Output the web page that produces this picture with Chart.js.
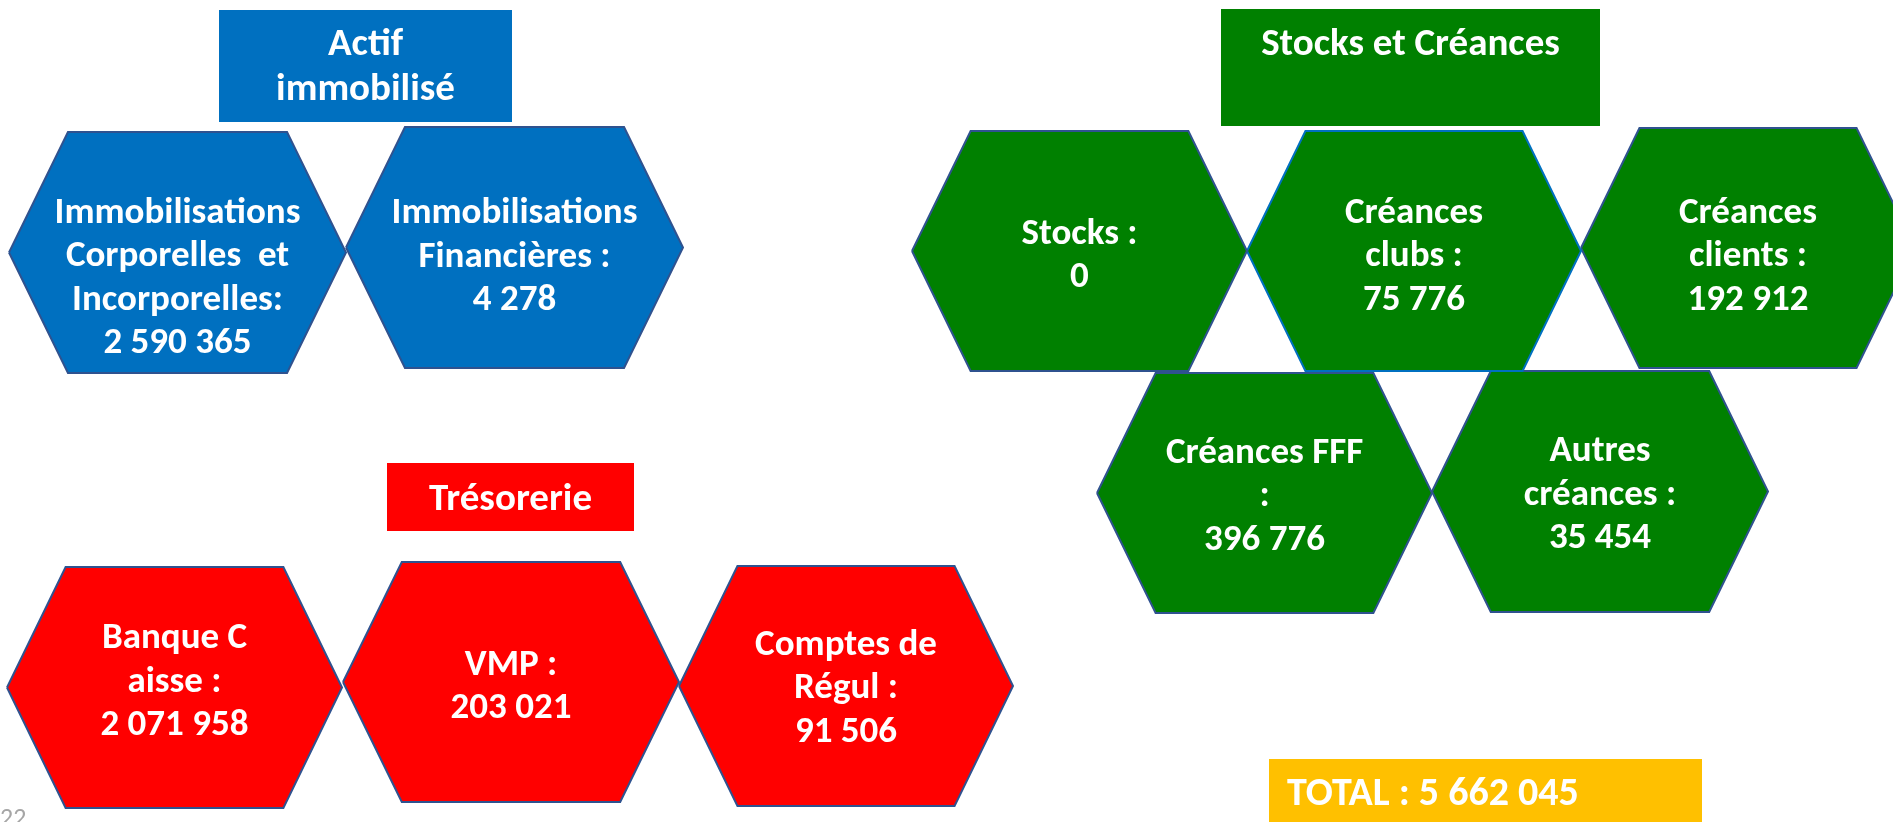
<!DOCTYPE html>
<html lang="fr">
<head>
<meta charset="utf-8">
<title>Actif</title>
<script src="https://cdn.jsdelivr.net/npm/chart.js"></script>
<style>
  html, body { margin: 0; padding: 0; background: #fff; }
  #wrap { width: 1893px; height: 822px; position: relative; }
</style>
</head>
<body>
<div id="wrap"><canvas id="hexchart"></canvas></div>
<script>
// groupes et valeurs
const groupTitles = ['Actif\nimmobilisé', 'Stocks et Créances', 'Trésorerie'];
const actifLabels = ['Immobilisations\nCorporelles  et\nIncorporelles:', 'Immobilisations\nFinancières :'];
const actifValues = [2590365, 4278];
const stockLabels = ['Stocks :', 'Créances\nclubs :', 'Créances\nclients :', 'Créances FFF\n:', 'Autres\ncréances :'];
const stockValues = [0, 75776, 192912, 396776, 35454];
const tresoLabels = ['Banque C\naisse :', 'VMP :', 'Comptes de\nRégul :'];
const tresoValues = [2071958, 203021, 91506];
const totalLabel = 'TOTAL : ';
const totalValue = 5662045;

// mise en page : [gauche, droite, haut, bas] en unités des axes
const actifHex = [[9, 346, 132, 373], [346, 683, 127, 368]];
const stockHex = [[912, 1247, 131, 371], [1247, 1581, 131, 371], [1581, 1915, 128, 368],
                  [1097, 1432, 373, 613], [1432, 1768, 371, 612]];
const tresoHex = [[7, 342, 567, 808], [343, 679, 562, 802], [679, 1013, 566, 806]];
const actifShift = [26, 10];
const stockShift = [5, 6, 9, 4, 4];
const tresoShift = [-5, 5, 3];
const titleBoxes = [[219, 512, 10, 122], [1221, 1600, 9, 126], [387, 634, 463, 531]];
const titleTextY = [68, 45, 500];
const totalBox = [1269, 1702, 759, 830];

const colors = ['#0070C0', '#008000', '#FF0000'];
const FAMILY = 'Carlito, Lato, "Liberation Sans", sans-serif';
const LINE_H = 43.5;

function fmt(v) {
  return String(v).replace(/\B(?=(\d{3})+(?!\d))/g, ' ');
}

function hexPoints(g) {
  const [l, r, t, b] = g;
  const inset = (r - l) * 0.175;
  const my = (t + b) / 2;
  return [
    {x: l, y: my}, {x: l + inset, y: t}, {x: r - inset, y: t},
    {x: r, y: my}, {x: r - inset, y: b}, {x: l + inset, y: b}, {x: l, y: my}
  ];
}

function rectPoints(g) {
  const [l, r, t, b] = g;
  return [{x: l, y: t}, {x: r, y: t}, {x: r, y: b}, {x: l, y: b}, {x: l, y: t}];
}

const groups = [
  {labels: actifLabels, values: actifValues, hex: actifHex, shift: actifShift},
  {labels: stockLabels, values: stockValues, hex: stockHex, shift: stockShift},
  {labels: tresoLabels, values: tresoValues, hex: tresoHex, shift: tresoShift}
];

const datasets = [];
groups.forEach(function(g, gi) {
  g.hex.forEach(function(h, i) {
    datasets.push({
      label: g.labels[i].replace(/\n/g, ' '),
      data: hexPoints(h),
      backgroundColor: colors[gi],
      borderColor: (gi === 1 && i === 1) ? '#0070C0' : '#2F528F',
      borderWidth: 2,
      fill: 'shape'
    });
  });
  datasets.push({
    label: groupTitles[gi],
    data: rectPoints(titleBoxes[gi]),
    backgroundColor: colors[gi],
    borderWidth: 0,
    fill: 'shape'
  });
});
datasets.push({
  label: 'TOTAL',
  data: rectPoints(totalBox),
  backgroundColor: '#FFC000',
  borderWidth: 0,
  fill: 'shape'
});

const textPlugin = {
  id: 'hexText',
  afterDatasetsDraw(chart) {
    const ctx = chart.ctx;
    const x = chart.scales.x, y = chart.scales.y;
    ctx.save();
    ctx.fillStyle = '#fff';
    ctx.textAlign = 'center';
    ctx.textBaseline = 'middle';

    groups.forEach(function(g, gi) {
      ctx.font = 'bold 37px ' + FAMILY;
      g.hex.forEach(function(h, i) {
        const lines = g.labels[i].split('\n').concat([fmt(g.values[i])]);
        const cx = x.getPixelForValue((h[0] + h[1]) / 2);
        const cy = y.getPixelForValue((h[2] + h[3]) / 2 + g.shift[i]);
        const top = cy - (lines.length - 1) * LINE_H / 2;
        lines.forEach(function(s, k) { ctx.fillText(s, cx, top + k * LINE_H); });
      });
      ctx.font = 'bold 39px ' + FAMILY;
      const b = titleBoxes[gi];
      const tl = groupTitles[gi].split('\n');
      const tx = x.getPixelForValue((b[0] + b[1]) / 2);
      const ty = y.getPixelForValue(titleTextY[gi]) - (tl.length - 1) * 45 / 2;
      tl.forEach(function(s, k) { ctx.fillText(s, tx, ty + k * 45); });
    });

    ctx.font = 'bold 40px ' + FAMILY;
    ctx.textAlign = 'left';
    ctx.fillText(totalLabel + fmt(totalValue), x.getPixelForValue(1287), y.getPixelForValue(795));

    // numéro de page, coupé en bas
    ctx.fillStyle = '#A6A6A6';
    ctx.font = '26px ' + FAMILY;
    ctx.textBaseline = 'top';
    ctx.fillText('22', x.getPixelForValue(0), y.getPixelForValue(806));
    ctx.restore();
  }
};

new Chart(document.getElementById('hexchart'), {
  type: 'line',
  data: {datasets: datasets},
  options: {
    responsive: true,
    maintainAspectRatio: false,
    animation: false,
    events: [],
    layout: {padding: 0},
    elements: {
      point: {radius: 0},
      line: {tension: 0}
    },
    plugins: {legend: {display: false}, tooltip: {enabled: false}},
    scales: {
      x: {type: 'linear', min: 0, max: 1893, display: false},
      y: {type: 'linear', min: 0, max: 822, reverse: true, display: false}
    }
  },
  plugins: [textPlugin]
});
</script>
</body>
</html>
